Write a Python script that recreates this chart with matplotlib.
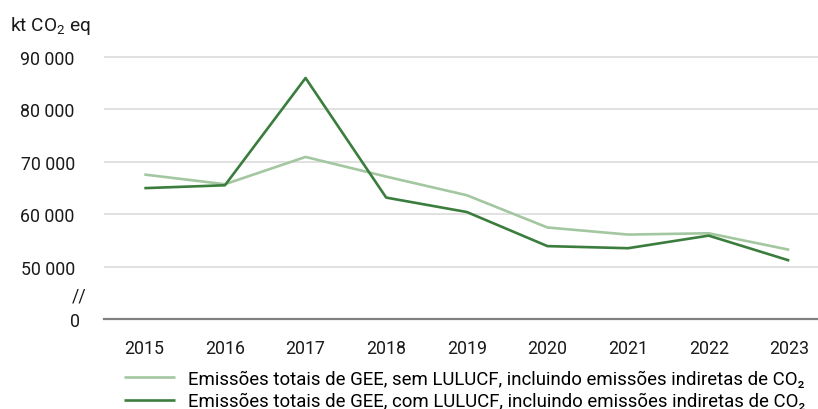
import matplotlib
matplotlib.use("Agg")
import matplotlib.pyplot as plt

plt.rcParams['font.family'] = ['Roboto', 'DejaVu Sans']
plt.rcParams['mathtext.fontset'] = 'custom'
plt.rcParams['mathtext.rm'] = 'Roboto'

years = ['2015', '2016', '2017', '2018', '2019', '2020', '2021', '2022', '2023']
sem_lulucf = [67600, 65750, 70950, 67200, 63650, 57500, 56150, 56400, 53250]
com_lulucf = [65000, 65550, 86000, 63200, 60450, 53950, 53550, 55950, 51200]
labels = ['Emissões totais de GEE, sem LULUCF, incluindo emissões indiretas de CO₂',
          'Emissões totais de GEE, com LULUCF, incluindo emissões indiretas de CO₂']
ytick_vals = [40000, 50000, 60000, 70000, 80000, 90000]
ytick_labels = ['0', '50 000', '60 000', '70 000', '80 000', '90 000']

W, H = 818, 410
fig = plt.figure(figsize=(W / 100, H / 100), dpi=100)

# axis baseline stands in for 0, the scale is broken between 0 and 50 000
ax_left, ax_right = 104, 829.6
ax_top, ax_bot = 52.75, 320.3
ax = fig.add_axes([ax_left / W, 1 - ax_bot / H,
                   (ax_right - ax_left) / W, (ax_bot - ax_top) / H])

x = range(len(years))
l1, = ax.plot(x, sem_lulucf, color='#a3c7a0', lw=1.9, solid_capstyle='butt')
l2, = ax.plot(x, com_lulucf, color='#3b7d3d', lw=1.9, solid_capstyle='butt')

ax.set_xlim(-0.5, len(years) - 0.5)
ax.set_ylim(40000, 91000)
ax.set_xticks(list(x))
ax.set_xticklabels(years)
ax.set_yticks(ytick_vals)
ax.set_yticklabels(ytick_labels)
ax.tick_params(axis='both', length=0, labelsize=12.8, colors='#1a1a1a')
ax.tick_params(axis='y', pad=21)
ax.tick_params(axis='x', pad=14)
# the lone "0" sits a little further right than the other labels
zero = ax.get_yticklabels()[0]
zero.set_x(zero.get_position()[0] + 5 / (ax_right - ax_left))

for v in ytick_vals[1:]:
    ax.axhline(v, color='#d9d9d9', lw=1.1, zorder=0)

for s in ['top', 'right', 'left']:
    ax.spines[s].set_visible(False)
ax.spines['bottom'].set_color('#808080')
ax.spines['bottom'].set_linewidth(1.6)

fig.text(79 / W, 1 - 297 / H, '//', ha='center', va='center',
         fontsize=12.8, color='#1a1a1a')
fig.text(10 / W, 1 - 26 / H, r'kt CO$_\mathrm{2}$ eq', ha='left', va='center',
         fontsize=13.8, color='#1a1a1a')

fig.legend([l1, l2], labels, loc='upper left',
           bbox_to_anchor=(124 / W, 1 - 371 / H), frameon=False,
           fontsize=13.4, handlelength=2.74, handletextpad=0.7,
           labelspacing=0.22, borderaxespad=0, borderpad=0)

fig.savefig('out.png', dpi=100)
